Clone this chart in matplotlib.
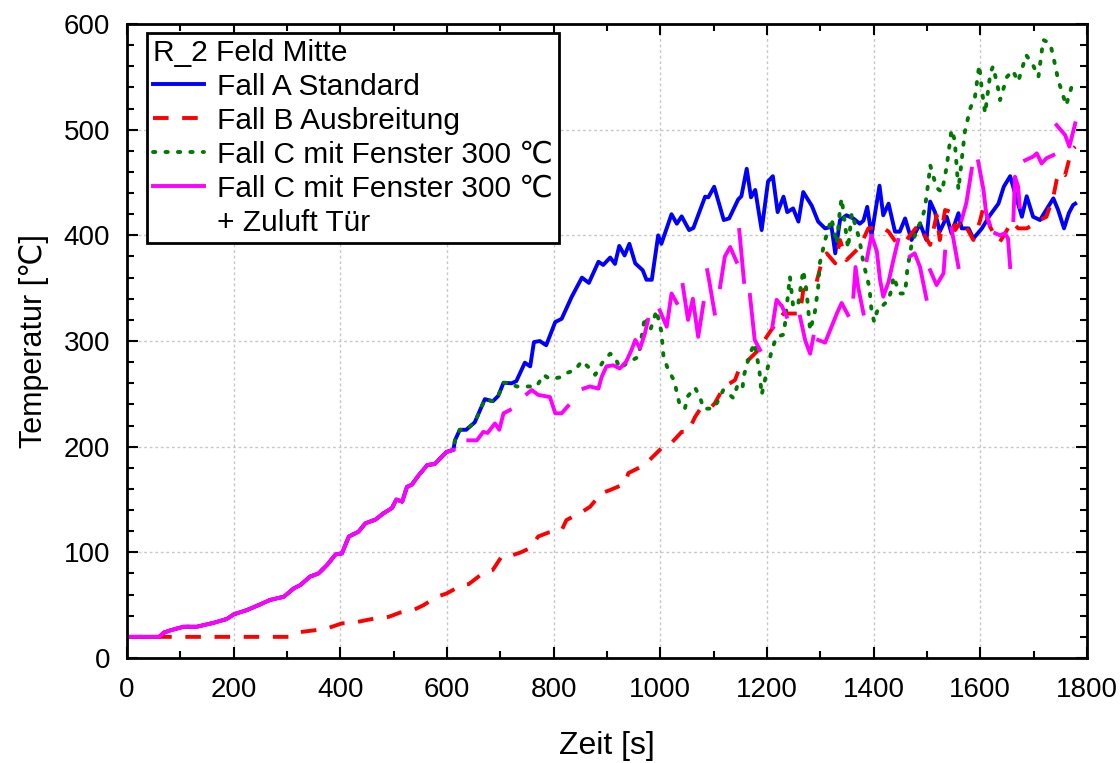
import numpy as np
import matplotlib
matplotlib.use("Agg")
import matplotlib.pyplot as plt
from matplotlib.ticker import MultipleLocator

plt.rcParams['font.family'] = ['Liberation Sans', 'DejaVu Sans']

# shared start of A, C and C + Zuluft (curves lie on top of each other)
t_start = [0, 30, 60, 69, 80, 106, 131, 163, 187, 200, 225, 250, 268, 294, 313, 325,
           343, 359, 375, 391, 403, 416, 434, 447, 466, 481, 497, 505, 516, 525, 534,
           547, 563, 577, 599, 612]
y_start = [20, 20, 20, 24, 26, 29.6, 29.6, 33.4, 36.9, 41.3, 45.4, 50.8, 54.9, 58, 66, 69,
           77, 80, 88, 98, 99, 115, 119.5, 127.5, 131, 137, 142, 150, 148, 162, 164,
           173, 182.6, 183.6, 195, 197]

# Fall A Standard (after shared start)
t_a = [615, 624, 636, 652, 671, 686, 696, 706, 721, 730, 746, 756, 763, 774, 786, 803,
       815, 834, 853, 866, 884, 893, 906, 915, 923, 933, 942, 953, 967, 974, 984, 996,
       1002, 1021, 1031, 1040, 1054, 1062, 1084, 1090, 1101, 1119, 1129, 1146, 1152,
       1162, 1170, 1178, 1190, 1202, 1211, 1220, 1231, 1238, 1249, 1259, 1268, 1284,
       1296, 1309, 1321, 1328, 1337, 1349, 1362, 1374, 1381, 1388, 1396, 1411, 1418,
       1428, 1440, 1449, 1459, 1471, 1487, 1499, 1506, 1515, 1524, 1537, 1546, 1559,
       1565, 1578, 1587, 1603, 1618, 1634, 1644, 1656, 1665, 1678, 1687, 1699, 1712,
       1721, 1737, 1746, 1757, 1766, 1774, 1778]
y_a = [206, 216, 216, 223, 245, 243, 248, 260.5, 260, 262, 279.5, 276, 299, 300, 296, 318,
       321, 342, 360, 355, 375, 372, 379, 373, 390, 381, 392, 373.5, 367, 358, 358, 400,
       392, 420, 411, 418, 405, 407, 436.6, 436, 446, 414.5, 416, 434, 437,
       463, 436, 443, 405, 451, 456, 422, 436.6, 422, 425.5, 413, 441, 428,
       413, 406.6, 408, 383, 414.5, 419, 416, 411, 414, 427, 400, 447, 419,
       430, 403.5, 403.5, 416, 395.6, 411, 395.6, 432, 422, 403.5, 417.6, 402, 421,
       406.6, 406.6, 397, 406.6, 419, 430, 446, 456, 440, 417.6, 437, 417.6, 414.5,
       422, 435, 424, 406.6, 421, 428.7, 430]

# Fall B Ausbreitung
t_b = [0, 60, 120, 180, 240, 306, 325, 356, 375, 403, 425, 450, 466, 491, 512, 537,
       556, 581, 599, 628, 641, 671, 686, 703, 718, 737, 756, 771, 790, 815, 824, 849,
       868, 890, 906, 934, 940, 962, 977, 1002, 1018, 1040, 1052, 1065, 1074, 1093,
       1102, 1112, 1124, 1140, 1149, 1165, 1181, 1206, 1231, 1237, 1262, 1268, 1293,
       1302, 1312, 1328, 1337, 1349, 1374, 1390, 1415, 1428, 1444, 1462, 1484, 1506,
       1518, 1524, 1534, 1546, 1553, 1566, 1587, 1599, 1606, 1618, 1628, 1637, 1650,
       1659, 1671, 1687, 1699, 1712, 1724, 1737, 1743, 1749, 1759, 1768, 1774, 1778]
y_b = [20, 20, 20, 20, 20, 20, 24.6, 26.5, 28, 32.8, 33.4, 36, 37.5, 39, 43, 45.4,
       50, 58, 61, 69, 70, 81.7, 83.4, 96.5, 96.5, 99.7, 104, 115, 118.7, 121, 130.6, 137,
       143, 156, 159, 165, 175, 180.5, 186, 198.5, 202, 214, 214, 228, 235, 236,
       241, 250, 258, 263, 275, 282, 290, 309, 326, 326, 326, 348, 356,
       373.5, 383, 373.5, 395.6, 376.6, 389, 406.6, 408, 403.5, 392, 396, 410, 391,
       419, 395.6, 424, 422, 405, 415, 395.6, 413, 427, 408.6, 398.7, 394, 405,
       413, 406.6, 406.6, 410, 414.5, 417.6, 436.6, 452, 460, 457, 474.5, 482, 484]

# Fall C mit Fenster 300 C (after shared start, follows A up to ~720 s)
t_c = [615, 624, 636, 652, 671, 686, 696, 706, 721,
       730, 749, 768, 781, 793, 812, 826, 840, 853, 868, 878, 892, 906, 915, 924, 940,
       959, 971, 981, 993, 998, 1002, 1006, 1015, 1027, 1031, 1037, 1046, 1052, 1065,
       1075, 1081, 1100, 1110, 1118, 1128, 1137, 1144, 1154, 1156, 1168, 1177, 1186,
       1190, 1199, 1209, 1218, 1231, 1234, 1237, 1243, 1249, 1258, 1268, 1274, 1281,
       1290, 1296, 1299, 1309, 1321, 1331, 1337, 1340, 1349, 1352, 1359, 1373, 1381,
       1392, 1396, 1401, 1409, 1418, 1428, 1434, 1437, 1449, 1459, 1463, 1471, 1481,
       1490, 1496, 1503, 1506, 1518, 1528, 1537, 1546, 1552, 1559, 1562, 1571, 1581,
       1590, 1598, 1603, 1609, 1619, 1624, 1634, 1637, 1650, 1661, 1671, 1686, 1699,
       1709, 1718, 1731, 1737, 1746, 1753, 1761, 1774, 1778]
y_c = [206, 216, 216, 223, 245, 243, 248, 260.5, 260,
       257, 257, 257, 268, 264, 265.6, 270, 272.5, 281, 274, 268, 280, 288, 285, 274, 280,
       285, 323, 310, 329, 317, 309, 285, 272.5, 261.5, 250.5, 238.5, 236, 248, 256,
       246, 236, 236, 245, 253.6, 250, 246, 257, 254, 266, 288, 298, 271,
       249, 269.5, 291.5, 304, 306, 317, 332.5, 361, 333, 333, 367, 348, 310,
       328, 351, 373.5, 395.6, 416, 392, 425.5, 435, 400, 387.7, 421, 397, 373.5,
       351, 329, 318, 332.5, 334, 339, 350, 361, 345, 345, 367, 391, 405,
       414.5, 425.5, 452, 466.5, 445, 441, 465, 500, 490, 443, 457, 498, 520,
       531, 561, 537.5, 515.5, 554, 560, 537.5, 528, 550, 556, 545.5, 570.7, 561,
       550, 585, 581.6, 569, 547, 536, 523, 545.5, 545]

# Fall C mit Fenster 300 C + Zuluft Tuer (after shared start, nan = gap in record)
t_d = [640, 656, 668, 676, 690, 698, 706, 718, 730,
       750, 759, 771, 793, 803, 815, 827, 840,
       856, 868, 884, 890, 899, 912, 924, 936, 946, 953, 962, 971, 977, 988,
       999, 1012, 1021, 1031, 1036,
       1042, 1052, 1061, 1071, 1081, 1084,
       1088, 1092, 1102, 1107,
       1112, 1121, 1131, 1143, 1145,
       1148, 1157, 1162,
       1168, 1177, 1187, 1200,
       1210, 1218, 1228, 1237, 1250,
       1262, 1272, 1281, 1287, 1291,
       1296, 1309, 1321, 1331, 1340, 1352, 1357,
       1362, 1366, 1371, 1381, 1384,
       1387, 1396, 1406, 1412, 1418, 1428, 1437, 1446, 1457,
       1468, 1477, 1487, 1499, 1502,
       1506, 1518, 1531, 1534, 1540,
       1546, 1559, 1562,
       1565, 1574, 1584, 1590,
       1596, 1606, 1611, 1618, 1623,
       1628, 1637, 1646, 1652, 1656, 1659,
       1662, 1665, 1671, 1674, 1679,
       1684, 1699, 1706, 1715, 1724, 1737, 1740,
       1743, 1759, 1767, 1778]
y_d = [206, 206, 214, 213, 222, 216, 231.6, 234.7, np.nan,
       250, 253.6, 249, 247, 231.6, 231.6, 238.5, np.nan,
       255, 257, 255, 266, 276, 277, 274, 280.5, 291.5, 301, 293, 307, 320, np.nan,
       329, 313.5, 345, 336, np.nan,
       353, 320, 340, 304, 336, np.nan,
       367, 356, 326, np.nan,
       351, 380, 389, 375, np.nan,
       405, 356, np.nan,
       343.5, 301, 291.5, np.nan,
       313, 339, 333, 323, np.nan,
       323, 300, 288, 304, np.nan,
       301, 298.5, 313.5, 326, 336, 324.6, np.nan,
       342, 370, 351, 326, np.nan,
       376.6, 400, 385, 358, 342, 356, 376.6, 395.6, np.nan,
       380, 383, 370, 340, np.nan,
       367, 353, 364, 384.6, np.nan,
       406.6, 370, np.nan,
       414.5, 431, 463, np.nan,
       470, 443, 421, 410, np.nan,
       402, 400, 402, 397, 370, np.nan,
       414.5, 455.5, 446, 427, np.nan,
       471, 474.5, 477.6, 468, 473, 476, np.nan,
       504.4, 495, 484, 506]

fig = plt.figure(figsize=(11.2, 7.63), dpi=100)
ax = fig.add_axes([0.1134, 0.1376, 0.8571, 0.8309])

ax.plot(t_start + t_a, y_start + y_a, color='#0000ff', lw=2.8, label='Fall A Standard')
ax.plot(t_b, y_b, color='#ff0000', lw=2.8, dashes=(4, 3.5), label='Fall B Ausbreitung')
ax.plot(t_start + t_c, y_start + y_c, color='#007a00', lw=2.8, dashes=(0.6, 2.6),
        dash_capstyle='round', label='Fall C mit Fenster 300 ℃')
ax.plot(t_start + [np.nan] + t_d, y_start + [np.nan] + y_d, color='#ff00ff', lw=2.8,
        label='Fall C mit Fenster 300 ℃')
ax.plot([], [], color='none', label='+ Zuluft Tür')

ax.set_xlim(0, 1800)
ax.set_ylim(0, 600)
ax.xaxis.set_major_locator(MultipleLocator(200))
ax.xaxis.set_minor_locator(MultipleLocator(100))
ax.yaxis.set_major_locator(MultipleLocator(100))
ax.yaxis.set_minor_locator(MultipleLocator(20))
ax.tick_params(which='both', direction='in', top=True, right=True, labelsize=20, width=1.5)
ax.tick_params(which='major', length=8)
ax.tick_params(which='minor', length=5)
ax.tick_params(axis='x', which='major', pad=14)
ax.tick_params(axis='y', which='major', pad=12)
for s in ax.spines.values():
    s.set_linewidth(2)
ax.grid(True, which='major', color='#c8c8c8', linestyle=(0, (2, 2)), linewidth=1)
ax.set_axisbelow(True)

ax.set_xlabel('Zeit [s]', fontsize=23, labelpad=20)
ax.set_ylabel('Temperatur [℃]', fontsize=22, labelpad=11)

leg = ax.legend(loc='upper left', bbox_to_anchor=(0.021, 0.986), title='R_2 Feld Mitte',
                fontsize=21.5, title_fontsize=21.5, alignment='left', fancybox=False,
                edgecolor='black', framealpha=1, handlelength=1.7, handletextpad=0.45,
                labelspacing=0.2, borderpad=0.2, borderaxespad=0)
leg.get_frame().set_linewidth(2)

fig.savefig('out.png', dpi=100)
